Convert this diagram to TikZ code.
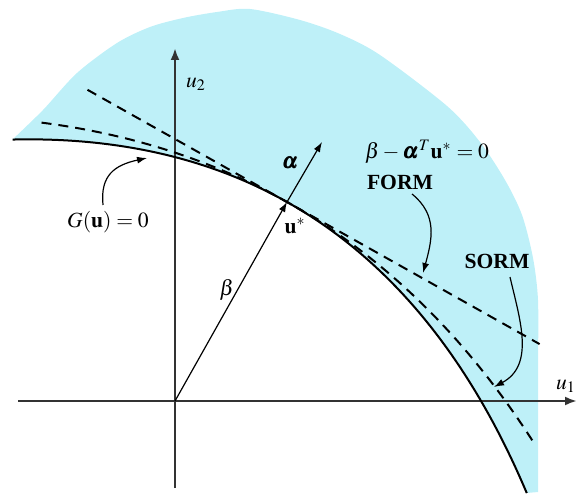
\documentclass[tikz,border=0pt]{standalone}
\usepackage{amsmath}
\usepackage{mathptmx}
\usepackage{bm}
\usepackage[no-math]{fontspec}
\setmainfont{Liberation Serif}
\usetikzlibrary{arrows.meta}
\definecolor{cyanfill}{RGB}{190,240,248}
\tikzset{
  axis/.style={line width=1.2pt, draw=black!80, -{Latex[length=6pt,width=4.5pt]}},
  limit/.style={line width=1pt, draw=black},
  dashcurve/.style={line width=1pt, draw=black, dash pattern=on 5pt off 3.5pt},
  vec/.style={line width=0.6pt, draw=black, -{Latex[length=5pt,width=3.5pt]}},
  pointer/.style={line width=0.6pt, draw=black, -{Latex[length=5pt,width=3.5pt]}},
  lbl/.style={inner sep=0pt, font=\fontsize{10.8}{13}\selectfont},
}
\begin{document}
\begin{tikzpicture}[x=0.5pt,y=-0.5pt]
\useasboundingbox (0,0) rectangle (577,496);
% failure region
\fill[cyanfill] plot[smooth] coordinates {(12.5,139.5) (43,110) (77,73) (117,43) (150,27) (183,18) (217,12) (250,9) (300,20) (340,34) (380,55) (447,106) (480,142) (505,180) (522,215) (533,258) (538,300) (538,360)}
  -- (538,492) -- (526.8,493)
  -- plot[domain=3.52:-2.70, samples=80] ({287+87.1*\x-5.39*\x*\x},{202+49*\x+9.581*\x*\x}) -- cycle;
% coordinates
\coordinate (O) at (175,401);
\coordinate (xL) at (18,401);
\coordinate (xR) at (577,401);
\coordinate (yB) at (175,488);
\coordinate (yT) at (175,48);
\coordinate (us) at (287,202);
\coordinate (aT) at (322,142);
\coordinate (fL) at (87.5,89.8);
\coordinate (fR) at (539.6,344.1);
% axes
\draw[axis] (xL) -- (xR);
\draw[axis] (yB) -- (yT);
% limit state
\draw[limit] plot[domain=-2.70:3.52, samples=80] ({287+87.1*\x-5.39*\x*\x},{202+49*\x+9.581*\x*\x});
% SORM
\draw[dashcurve] plot[domain=-2.53:3.37, samples=80] ({287+87.1*\x-3.92*\x*\x},{202+49*\x+6.968*\x*\x});
% FORM
\draw[dashcurve] (fL) -- (fR);
% vectors
\draw[vec] (O) -- (us);
\draw[vec] (us) -- (aT);
% labels
\node[lbl] (u2) at (196,84) {$u_2$};
\node[lbl] (u1) at (566,386) {$u_1$};
\node[lbl] (al) at (290,163) {$\bm{\alpha}$};
\node[lbl] (ust) at (295,226) {$\mathbf{u}^{*}$};
\node[lbl] (be) at (227,290) {$\beta$};
\node[lbl] (G) at (108,222) {$G(\mathbf{u})=0$};
\node[lbl] (pl) at (427,152) {$\beta-\bm{\alpha}^{T}\mathbf{u}^{*}=0$};
\node[lbl] (form) at (400,182) {\textbf{FORM}};
\node[lbl] (sorm) at (497,261) {\textbf{SORM}};
% pointers
\coordinate (gS) at (103,205);
\coordinate (gE) at (147,158);
\coordinate (fS) at (412,194);
\coordinate (fE) at (423,273);
\coordinate (sS) at (510,277);
\coordinate (sE) at (494,387);
\draw[pointer] (gS) .. controls (100,175) and (115,165) .. (gE);
\draw[pointer] (fS) .. controls (438,215) and (432,240) .. (fE);
\draw[pointer] (sS) .. controls (520,320) and (535,365) .. (sE);
\end{tikzpicture}
\end{document}
